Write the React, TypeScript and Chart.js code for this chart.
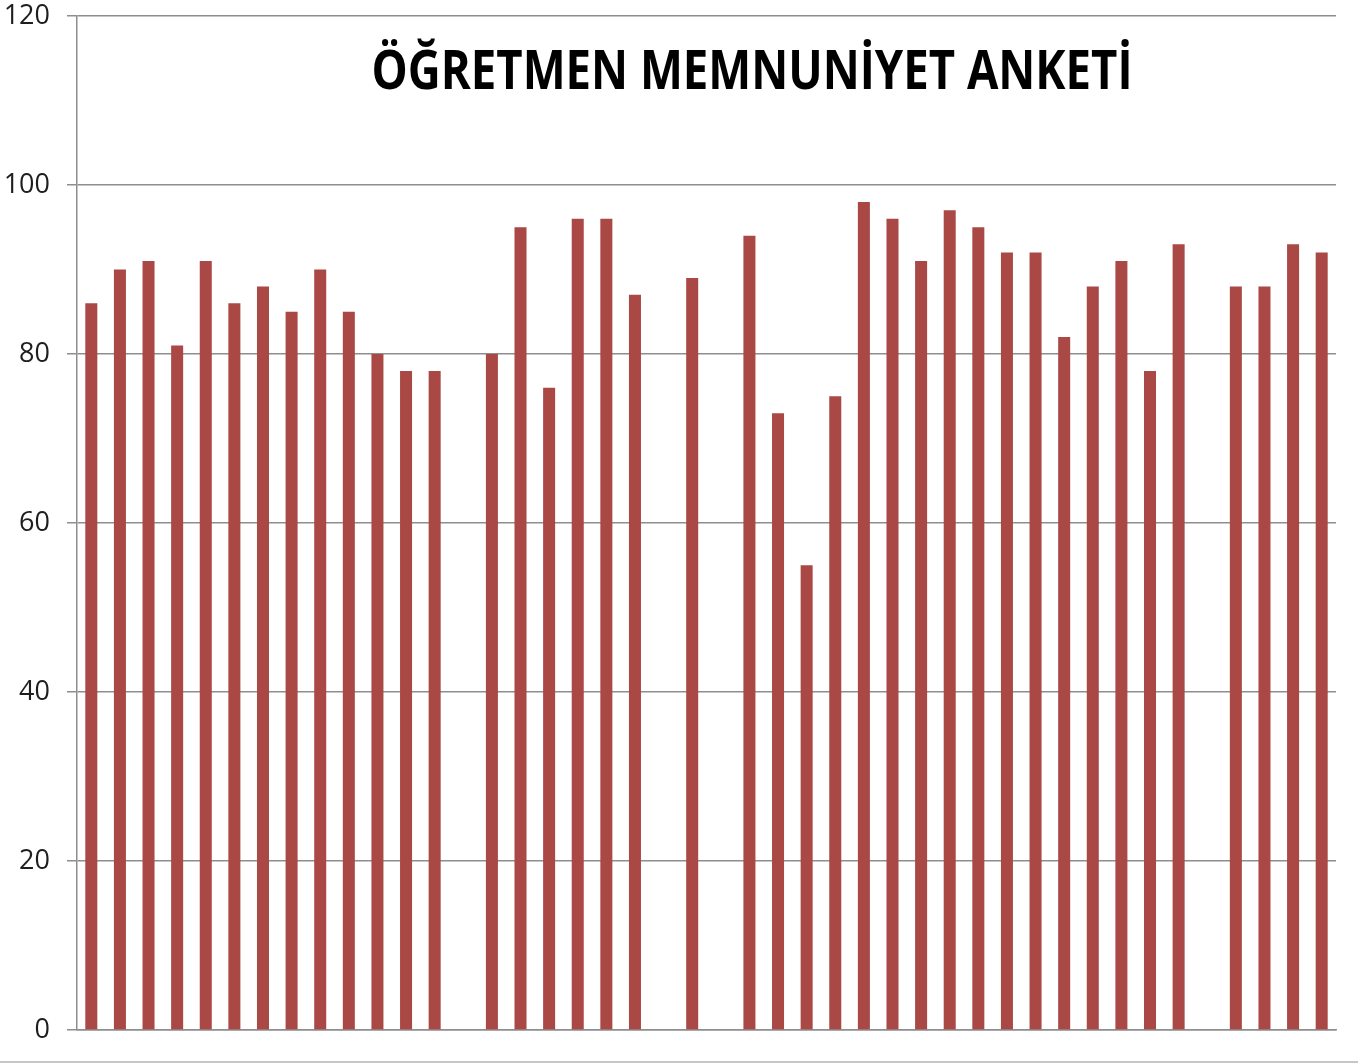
import React, { useEffect, useRef } from "react";
import { Chart, registerables } from "chart.js";

Chart.register(...registerables);

const TITLE = "ÖĞRETMEN MEMNUNİYET ANKETİ";

const categories = [
  "1", "2", "3", "4", "5", "6", "7", "8", "9", "10", "11",
  "12", "13", "14", "15", "16", "17", "18", "19", "20", "21", "22",
  "23", "24", "25", "26", "27", "28", "29", "30", "31", "32", "33",
  "34", "35", "36", "37", "38", "39", "40", "41", "42", "43", "44",
];

const satisfaction: (number | null)[] = [
  86, 90, 91, 81, 91, 86, 88, 85, 90, 85, 80,
  78, 78, null, 80, 95, 76, 96, 96, 87, null, 89,
  null, 94, 73, 55, 75, 98, 96, 91, 97, 95, 92,
  92, 82, 88, 91, 78, 93, null, 88, 88, 93, 92,
];

const yTickMin = 0;
const yTickMax = 120;
const yTickStep = 20;

const BAR_COLOR = "#AA4845";
const GRID_COLOR = "#8e8e8e";
const TICK_FONT_SIZE = 27;

const overlayPlugin = {
  id: "overlayTitle",
  afterDraw(chart: any) {
    const ctx = chart.ctx as CanvasRenderingContext2D;
    ctx.save();
    ctx.strokeStyle = "#b4b4b4";
    ctx.lineWidth = 1.5;
    ctx.beginPath();
    ctx.moveTo(0, 1062);
    ctx.lineTo(chart.width, 1062);
    ctx.stroke();

    ctx.font = 'bold 53px "Open Sans", sans-serif';
    const w = ctx.measureText(TITLE).width;
    const target = 761;
    ctx.translate(752, 89);
    ctx.scale(target / w, 1);
    ctx.textAlign = "center";
    ctx.textBaseline = "alphabetic";
    ctx.fillStyle = "#000000";
    ctx.fillText(TITLE, 0, 0);
    ctx.restore();
  },
};

export default function App() {
  const ref = useRef<HTMLCanvasElement | null>(null);

  useEffect(() => {
    if (!ref.current) return;
    const chart = new Chart(ref.current, {
      type: "bar",
      data: {
        labels: categories,
        datasets: [
          {
            label: "Memnuniyet",
            data: satisfaction as any,
            backgroundColor: BAR_COLOR,
            borderWidth: 0,
            categoryPercentage: 1,
            barPercentage: 0.42,
          },
        ],
      },
      options: {
        responsive: false,
        animation: false,
        devicePixelRatio: 1,
        layout: { autoPadding: false, padding: { top: 16, right: 22, bottom: 34, left: 0 } },
        plugins: {
          legend: { display: false },
          title: { display: false },
          tooltip: { enabled: false },
        },
        scales: {
          x: {
            display: true,
            grid: { display: false, drawTicks: false },
            ticks: { display: false },
            border: { display: true, color: GRID_COLOR, width: 1.5 },
            afterFit(scale: any) {
              scale.height = 0;
              scale.paddingLeft = 0;
              scale.paddingRight = 0;
            },
          },
          y: {
            min: yTickMin,
            max: yTickMax,
            ticks: {
              stepSize: yTickStep,
              color: "#1e1e1e",
              padding: 17,
              font: { family: '"Open Sans", "DejaVu Sans", sans-serif', size: TICK_FONT_SIZE, lineHeight: 1 },
            },
            grid: {
              color: GRID_COLOR,
              lineWidth: 1.5,
              tickLength: 10,
              drawTicks: true,
            },
            border: { display: true, color: GRID_COLOR, width: 1.5 },
            afterFit(scale: any) {
              scale.width = 77;
              scale.paddingTop = 0;
              scale.paddingBottom = 0;
            },
          },
        },
      },
      plugins: [overlayPlugin],
    });
    return () => chart.destroy();
  }, []);

  return (
    <div style={{ position: "absolute", left: 0, top: 0, width: 1358, height: 1064, background: "#ffffff" }}>
      <canvas ref={ref} width={1358} height={1064} style={{ display: "block" }} />
    </div>
  );
}
